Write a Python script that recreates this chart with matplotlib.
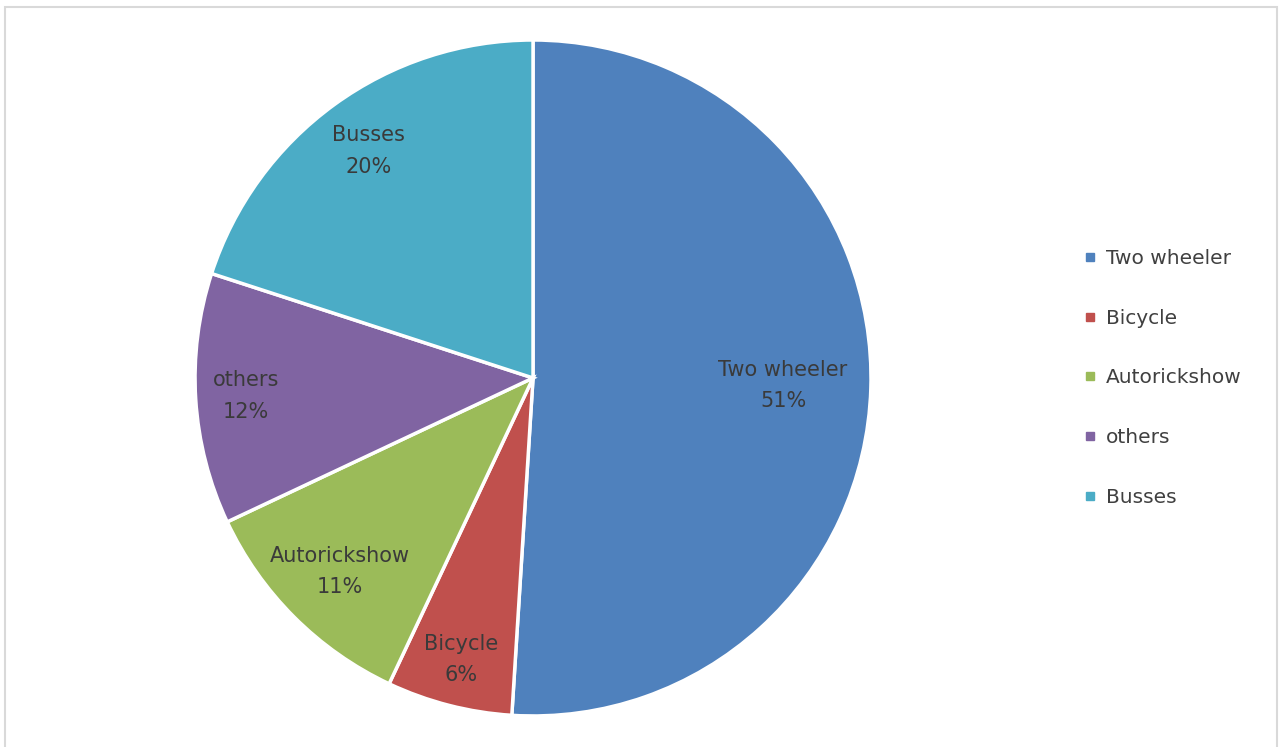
import numpy as np
import matplotlib.pyplot as plt
from matplotlib.lines import Line2D
from matplotlib.patches import Rectangle

plt.rcParams['font.family'] = ['DejaVu Sans']

modes = ['Two wheeler', 'Bicycle', 'Autorickshow', 'others', 'Busses']
shares = [51, 6, 11, 12, 20]
colors = ['#4F81BD', '#C0504D', '#9BBB59', '#8064A2', '#4BACC6']
# radial position of each slice label (fraction of radius)
label_r = [0.74, 0.86, 0.81, 0.85, 0.83]

fig = plt.figure(figsize=(12.79, 7.47), dpi=100)
ax = fig.add_axes([0.1525, 0.0415, 0.5285, 0.905])

wedges, _ = ax.pie(shares, colors=colors, startangle=90, counterclock=False,
                   wedgeprops=dict(edgecolor='white', linewidth=2.5))
ax.set_xlim(-1, 1)
ax.set_ylim(-1, 1)
ax.set_aspect('equal')

for w, name, val, r in zip(wedges, modes, shares, label_r):
    ang = np.deg2rad((w.theta1 + w.theta2) / 2)
    ax.text(r * np.cos(ang), r * np.sin(ang), f'{name}\n{val}%',
            ha='center', va='center', fontsize=15, color='#3a3a3a',
            linespacing=1.7)

handles = [Line2D([], [], marker='s', linestyle='none', color=c, markersize=6)
           for c in colors]
fig.legend(handles, modes, loc='center left', bbox_to_anchor=(0.83, 0.494),
           frameon=False, fontsize=14.5, labelspacing=2.03, handletextpad=0.3,
           handlelength=1.0, labelcolor='#404040')

# light frame around the chart area
fig.patches.append(Rectangle((5 / 1279, -0.01), 1272 / 1279, 1 - 7 / 747 + 0.01,
                             transform=fig.transFigure, fill=False,
                             edgecolor='#D9D9D9', linewidth=1.5))

fig.savefig('out.png', dpi=100)
